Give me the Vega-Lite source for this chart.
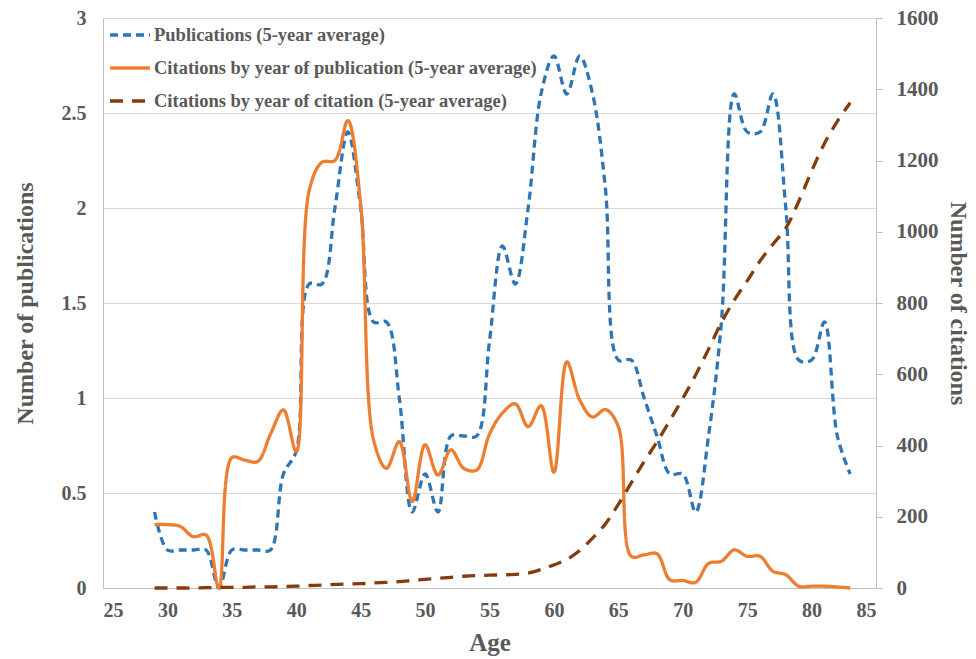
{
 "$schema": "https://vega.github.io/schema/vega-lite/v6.json",
 "width": 773, "height": 570,
 "autosize": {"type": "none"},
 "padding": {"left": 103, "top": 18, "right": 100, "bottom": 71},
 "background": "white",
 "config": {"view": {"stroke": null}, "font": "Liberation Serif"},
 "datasets": {
  "pub": [
   {"age":29,"value":0.4},{"age":30,"value":0.2},{"age":31,"value":0.2},{"age":32,"value":0.2},{"age":33,"value":0.2},{"age":34,"value":0},{"age":35,"value":0.2},{"age":36,"value":0.2},{"age":37,"value":0.2},{"age":38,"value":0.2},{"age":39,"value":0.6},{"age":40,"value":0.72},{"age":41,"value":1.6},{"age":42,"value":1.6},{"age":43,"value":2.0},{"age":44,"value":2.4},{"age":45,"value":2.0},{"age":46,"value":1.4},{"age":47,"value":1.4},{"age":48,"value":1.0},{"age":49,"value":0.4},{"age":50,"value":0.6},{"age":51,"value":0.4},{"age":52,"value":0.8},{"age":53,"value":0.8},{"age":54,"value":0.8},{"age":55,"value":1.3},{"age":56,"value":1.8},{"age":57,"value":1.6},{"age":58,"value":2.0},{"age":59,"value":2.6},{"age":60,"value":2.8},{"age":61,"value":2.6},{"age":62,"value":2.8},{"age":63,"value":2.6},{"age":64,"value":2.1},{"age":65,"value":1.2},{"age":66,"value":1.2},{"age":67,"value":1.0},{"age":68,"value":0.8},{"age":69,"value":0.6},{"age":70,"value":0.6},{"age":71,"value":0.4},{"age":72,"value":0.8},{"age":73,"value":1.4},{"age":74,"value":2.6},{"age":75,"value":2.4},{"age":76,"value":2.4},{"age":77,"value":2.6},{"age":78,"value":2.0},{"age":79,"value":1.2},{"age":80,"value":1.2},{"age":81,"value":1.4},{"age":82,"value":0.8},{"age":83,"value":0.6}
  ],
  "cit": [
   {"age":29,"series":"cpub","value":178},{"age":30,"series":"cpub","value":178},{"age":31,"series":"cpub","value":173},{"age":32,"series":"cpub","value":144},{"age":33,"series":"cpub","value":149},{"age":34,"series":"cpub","value":0},{"age":35,"series":"cpub","value":366},{"age":36,"series":"cpub","value":359},{"age":37,"series":"cpub","value":355},{"age":38,"series":"cpub","value":432},{"age":39,"series":"cpub","value":500},{"age":40,"series":"cpub","value":383},{"age":41,"series":"cpub","value":1115},{"age":42,"series":"cpub","value":1195},{"age":43,"series":"cpub","value":1200},{"age":44,"series":"cpub","value":1312},{"age":45,"series":"cpub","value":1077},{"age":46,"series":"cpub","value":416},{"age":47,"series":"cpub","value":336},{"age":48,"series":"cpub","value":411},{"age":49,"series":"cpub","value":243},{"age":50,"series":"cpub","value":402},{"age":51,"series":"cpub","value":317},{"age":52,"series":"cpub","value":388},{"age":53,"series":"cpub","value":336},{"age":54,"series":"cpub","value":331},{"age":55,"series":"cpub","value":432},{"age":56,"series":"cpub","value":491},{"age":57,"series":"cpub","value":517},{"age":58,"series":"cpub","value":453},{"age":59,"series":"cpub","value":512},{"age":60,"series":"cpub","value":325},{"age":61,"series":"cpub","value":635},{"age":62,"series":"cpub","value":528},{"age":63,"series":"cpub","value":480},{"age":64,"series":"cpub","value":501},{"age":65,"series":"cpub","value":453},{"age":66,"series":"cpub","value":89},{"age":67,"series":"cpub","value":93},{"age":68,"series":"cpub","value":96},{"age":69,"series":"cpub","value":23},{"age":70,"series":"cpub","value":21},{"age":71,"series":"cpub","value":16},{"age":72,"series":"cpub","value":69},{"age":73,"series":"cpub","value":75},{"age":74,"series":"cpub","value":107},{"age":75,"series":"cpub","value":89},{"age":76,"series":"cpub","value":89},{"age":77,"series":"cpub","value":47},{"age":78,"series":"cpub","value":37},{"age":79,"series":"cpub","value":5},{"age":80,"series":"cpub","value":5},{"age":81,"series":"cpub","value":5},{"age":82,"series":"cpub","value":3},{"age":83,"series":"cpub","value":0},
   {"age":29,"series":"ccit","value":0},{"age":30,"series":"ccit","value":0},{"age":31,"series":"ccit","value":0},{"age":32,"series":"ccit","value":0},{"age":33,"series":"ccit","value":1},{"age":34,"series":"ccit","value":1},{"age":35,"series":"ccit","value":2},{"age":36,"series":"ccit","value":2},{"age":37,"series":"ccit","value":3},{"age":38,"series":"ccit","value":3},{"age":39,"series":"ccit","value":4},{"age":40,"series":"ccit","value":5},{"age":41,"series":"ccit","value":7},{"age":42,"series":"ccit","value":8},{"age":43,"series":"ccit","value":10},{"age":44,"series":"ccit","value":11},{"age":45,"series":"ccit","value":12},{"age":46,"series":"ccit","value":14},{"age":47,"series":"ccit","value":16},{"age":48,"series":"ccit","value":18},{"age":49,"series":"ccit","value":21},{"age":50,"series":"ccit","value":24},{"age":51,"series":"ccit","value":27},{"age":52,"series":"ccit","value":30},{"age":53,"series":"ccit","value":33},{"age":54,"series":"ccit","value":35},{"age":55,"series":"ccit","value":36},{"age":56,"series":"ccit","value":37},{"age":57,"series":"ccit","value":38},{"age":58,"series":"ccit","value":42},{"age":59,"series":"ccit","value":52},{"age":60,"series":"ccit","value":65},{"age":61,"series":"ccit","value":80},{"age":62,"series":"ccit","value":105},{"age":63,"series":"ccit","value":140},{"age":64,"series":"ccit","value":180},{"age":65,"series":"ccit","value":235},{"age":66,"series":"ccit","value":295},{"age":67,"series":"ccit","value":355},{"age":68,"series":"ccit","value":410},{"age":69,"series":"ccit","value":470},{"age":70,"series":"ccit","value":532},{"age":71,"series":"ccit","value":598},{"age":72,"series":"ccit","value":670},{"age":73,"series":"ccit","value":745},{"age":74,"series":"ccit","value":808},{"age":75,"series":"ccit","value":862},{"age":76,"series":"ccit","value":918},{"age":77,"series":"ccit","value":965},{"age":78,"series":"ccit","value":1010},{"age":79,"series":"ccit","value":1085},{"age":80,"series":"ccit","value":1170},{"age":81,"series":"ccit","value":1248},{"age":82,"series":"ccit","value":1310},{"age":83,"series":"ccit","value":1362}
  ]
 },
 "layer": [
  {
   "data": {"name": "pub"},
   "transform": [{"calculate": "'pub'", "as": "series"}],
   "mark": {"type": "line", "interpolate": "catmull-rom", "strokeWidth": 3.3},
   "encoding": {
    "x": {"field": "age", "type": "quantitative",
          "scale": {"domain": [25, 85], "nice": false, "zero": false},
          "axis": {"values": [25,30,35,40,45,50,55,60,65,70,75,80,85], "grid": false, "ticks": false,
                   "domainColor": "#bfbfbf", "labelFont": "Liberation Serif", "labelFontWeight": "bold",
                   "labelFontSize": 20, "labelColor": "#595959", "labelPadding": 12,
                   "title": "Age", "titleFont": "Liberation Serif", "titleFontSize": 25, "titleFontWeight": "bold",
                   "titleColor": "#595959", "titlePadding": 10}},
    "y": {"field": "value", "type": "quantitative",
          "scale": {"domain": [0, 3], "nice": false},
          "axis": {"values": [0,0.5,1,1.5,2,2.5,3], "format": "~g", "grid": true, "gridColor": "#d9d9d9",
                   "ticks": false, "domainColor": "#bfbfbf", "labelFont": "Liberation Serif", "labelFontWeight": "bold",
                   "labelFontSize": 20, "labelColor": "#595959", "labelPadding": 17,
                   "title": "Number of publications", "titleFont": "Liberation Serif", "titleFontSize": 24,
                   "titleFontWeight": "bold", "titleColor": "#595959", "titlePadding": 24}},
    "color": {"field": "series", "type": "nominal",
              "scale": {"domain": ["pub","cpub","ccit"], "range": ["#2E75B6","#ED7D31","#843C0C"]},
              "legend": {"title": null, "orient": "none", "legendX": 5, "legendY": -5,
                         "symbolType": "stroke", "symbolSize": 1600, "symbolStrokeWidth": 3.5,
                         "labelFont": "Liberation Serif", "labelFontWeight": "bold", "labelFontSize": 18.5,
                         "labelColor": "#595959", "labelOffset": 2, "rowPadding": 1, "labelLimit": 0,
                         "labelExpr": "datum.value == 'pub' ? 'Publications  (5-year average)' : datum.value == 'cpub' ? 'Citations by year of publication (5-year average)' : 'Citations  by year of citation (5-year average)'"}},
    "strokeDash": {"field": "series", "type": "nominal",
              "scale": {"domain": ["pub","cpub","ccit"], "range": [[8,5],[1,0],[13,9]]},
              "legend": {"title": null, "orient": "none", "legendX": 5, "legendY": -5,
                         "symbolType": "stroke", "symbolSize": 1600, "symbolStrokeWidth": 3.5,
                         "labelFont": "Liberation Serif", "labelFontWeight": "bold", "labelFontSize": 18.5,
                         "labelColor": "#595959", "labelOffset": 2, "rowPadding": 1, "labelLimit": 0,
                         "labelExpr": "datum.value == 'pub' ? 'Publications  (5-year average)' : datum.value == 'cpub' ? 'Citations by year of publication (5-year average)' : 'Citations  by year of citation (5-year average)'"}}
   }
  },
  {
   "data": {"name": "cit"},
   "mark": {"type": "line", "interpolate": "catmull-rom", "strokeWidth": 3.3},
   "encoding": {
    "x": {"field": "age", "type": "quantitative"},
    "y": {"field": "value", "type": "quantitative",
          "scale": {"domain": [0, 1600], "nice": false},
          "axis": {"orient": "right", "values": [0,200,400,600,800,1000,1200,1400,1600], "format": "d", "grid": false,
                   "ticks": true, "tickSize": 6, "tickColor": "#bfbfbf", "domainColor": "#bfbfbf",
                   "labelFont": "Liberation Serif", "labelFontWeight": "bold", "labelFontSize": 21,
                   "labelColor": "#595959", "labelPadding": 14,
                   "title": "Number of citations", "titleFont": "Liberation Serif", "titleFontSize": 24,
                   "titleFontWeight": "bold", "titleColor": "#595959", "titleAngle": 90, "titlePadding": 7}},
    "color": {"field": "series", "type": "nominal"},
    "strokeDash": {"field": "series", "type": "nominal"}
   }
  }
 ],
 "resolve": {"scale": {"y": "independent"}}
}
